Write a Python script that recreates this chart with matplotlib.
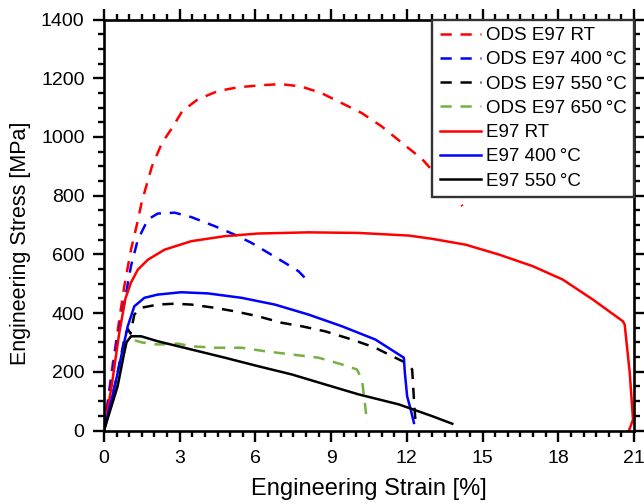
import matplotlib
matplotlib.use("Agg")
import matplotlib.pyplot as plt
from matplotlib.ticker import MultipleLocator

plt.rcParams["font.family"] = ["Liberation Sans", "DejaVu Sans"]

# ODS E97 curves (dashed)
ods_rt_x = [0, 0.3, 0.8, 1.07, 1.3, 1.5, 1.9, 2.3, 2.7, 3.1, 3.7, 4.5, 5.3, 6.2,
            7.0, 7.8, 8.6, 9.4, 10.2, 11.0, 11.8, 12.6, 13.1, 13.9, 14.2]
ods_rt_y = [0, 200, 490, 616, 700, 780, 900, 980, 1031, 1088, 1127, 1156, 1169, 1176,
            1180, 1172, 1150, 1116, 1082, 1036, 980, 925, 877, 804, 764]

ods_400_x = [0, 0.5, 0.9, 1.07, 1.34, 1.74, 2.13, 2.8, 3.46, 4.39, 5.18, 5.85,
             6.51, 7.17, 7.7, 8.03]
ods_400_y = [0, 300, 480, 560, 650, 719, 739, 742, 727, 696, 667, 639,
             605, 571, 543, 514]

ods_550_x = [0, 0.5, 0.85, 0.95, 1.05, 1.2, 1.47, 2.13, 2.8, 3.46, 4.39, 5.18, 6.11,
             7.04, 7.84, 8.76, 9.82, 10.75, 11.42, 11.95, 12.21, 12.28, 12.34]
ods_550_y = [0, 180, 330, 345, 330, 395, 418, 429, 432, 429, 418, 406, 389,
             367, 355, 338, 310, 282, 253, 231, 208, 106, 32]

ods_650_x = [0, 0.5, 0.9, 1.1, 1.5, 2.13, 2.93, 3.46, 4.39, 5.45, 6.38, 7.44,
             8.5, 9.43, 10.02, 10.22, 10.35, 10.42]
ods_650_y = [0, 160, 300, 310, 300, 293, 296, 287, 282, 282, 270, 259,
             248, 225, 208, 174, 83, 26]

# E97 curves (solid)
e97_rt_x = [0, 0.3, 0.6, 0.85, 1.07, 1.34, 1.74, 2.4, 3.46, 4.79, 6.11, 8.1, 10.09,
            12.08, 13.0, 14.33, 15.66, 16.98, 18.18, 19.37, 20.56, 20.63, 20.83,
            20.96, 20.8]
e97_rt_y = [0, 150, 330, 450, 504, 548, 582, 616, 645, 662, 671, 675, 673,
            664, 653, 633, 599, 560, 514, 446, 372, 361, 197, 37, 0]

e97_400_x = [0, 0.4, 0.7, 0.94, 1.2, 1.6, 2.13, 3.06, 4.12, 5.45, 6.77, 8.1, 9.43,
             10.75, 11.88, 11.92, 12.01, 12.15, 12.28]
e97_400_y = [0, 140, 260, 355, 423, 452, 463, 471, 467, 452, 429, 395, 355,
             310, 248, 197, 117, 72, 26]

e97_550_x = [0, 0.54, 0.88, 1.07, 1.47, 2.13, 3.46, 4.79, 6.11, 7.44, 8.76, 10.09,
             11.68, 13.0, 13.8]
e97_550_y = [0, 151, 299, 321, 321, 304, 276, 248, 219, 191, 157, 123,
             89, 49, 23]

green = "#76b041"
dash = (0, (4.5, 3.5))

fig = plt.figure(figsize=(6.44, 5.04), dpi=100)
ax = fig.add_axes([0.1615, 0.1458, 0.823, 0.8155])

lw = 1.8
ax.plot(ods_rt_x, ods_rt_y, color="red", lw=lw, ls=dash, label="ODS E97 RT")
ax.plot(ods_400_x, ods_400_y, color="blue", lw=lw, ls=dash, label="ODS E97 400\u2009°C")
ax.plot(ods_550_x, ods_550_y, color="black", lw=lw, ls=dash, label="ODS E97 550\u2009°C")
ax.plot(ods_650_x, ods_650_y, color=green, lw=lw, ls=dash, label="ODS E97 650\u2009°C")
ax.plot(e97_rt_x, e97_rt_y, color="red", lw=lw, label="E97 RT")
ax.plot(e97_400_x, e97_400_y, color="blue", lw=lw, label="E97 400\u2009°C")
ax.plot(e97_550_x, e97_550_y, color="black", lw=lw, label="E97 550\u2009°C")

ax.set_xlim(0, 21)
ax.set_ylim(0, 1400)
ax.xaxis.set_major_locator(MultipleLocator(3))
ax.xaxis.set_minor_locator(MultipleLocator(0.5))
ax.yaxis.set_major_locator(MultipleLocator(200))
ax.yaxis.set_minor_locator(MultipleLocator(50))

ax.tick_params(which="both", direction="out", top=True, right=True,
               labeltop=False, labelright=False, width=1.7, labelsize=14)
ax.tick_params(which="major", length=8, pad=6)
ax.tick_params(which="minor", length=4.5)
for s in ax.spines.values():
    s.set_linewidth(1.9)

ax.set_xlabel("Engineering Strain [%]", fontsize=17, labelpad=8)
ax.set_ylabel("Engineering Stress [MPa]", fontsize=15.5)
ax.yaxis.set_label_coords(-0.138, 0.456)

leg = ax.legend(loc="upper right", bbox_to_anchor=(1, 1), borderaxespad=0,
                fontsize=13.5, fancybox=False, framealpha=1, edgecolor="#333333",
                handlelength=2.2, handletextpad=0.25, labelspacing=0.38,
                borderpad=0.4)
leg.get_frame().set_linewidth(1.7)

fig.savefig("out.png", dpi=100)
